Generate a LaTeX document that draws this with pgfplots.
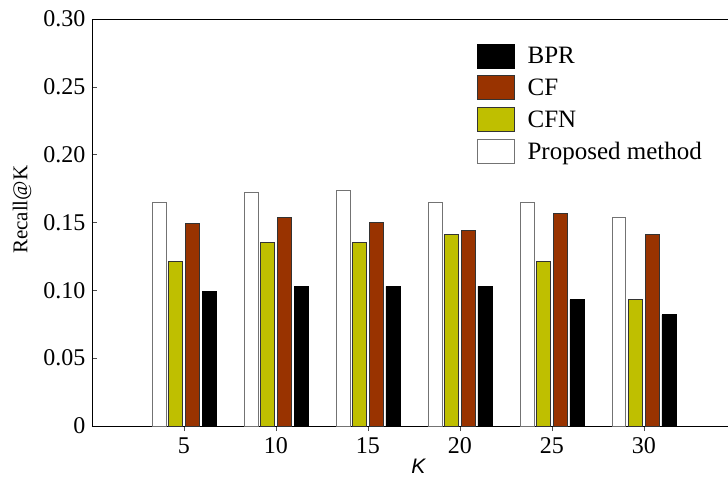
\documentclass[border=0pt]{standalone}
\usepackage{pgfplots}
\pgfplotsset{compat=1.18}
\usepackage{fontspec}
\setmainfont{Liberation Serif}
\newfontfamily\labelsans{Liberation Sans}
\definecolor{cfOrange}{HTML}{993300}
\definecolor{cfnYellow}{HTML}{BFBF00}

\begin{document}
\begin{tikzpicture}
\begin{axis}[
    name=ax,
    scale only axis,
    width=636bp, height=407bp,
    xmin=0, xmax=34.57,
    ymin=0, ymax=0.30,
    axis lines*=left,
    axis line style={line width=0.8pt},
    xtick={5,10,15,20,25,30},
    xticklabels={5,10,15,20,25,30},
    ytick={0,0.05,0.10,0.15,0.20,0.25,0.30},
    yticklabels={0,0.05,0.10,0.15,0.20,0.25,0.30},
    tick align=inside,
    major tick length=5bp,
    tick style={black!70, line width=0.5pt},
    ticklabel style={font=\fontsize{24bp}{28bp}\selectfont},
    yticklabel style={xshift=-3bp},
    xticklabel style={yshift=-3bp},
    xlabel={\labelsans\itshape K},
    xlabel style={font=\fontsize{21bp}{24bp}\selectfont, at={(axis description cs:0.513,-0.098)}, anchor=center},
    ylabel={Recall@K},
    ylabel style={font=\fontsize{21bp}{24bp}\selectfont, at={(axis description cs:-0.110,0.531)}, anchor=center},
    ybar, bar width=0.76,
    reverse legend,
    legend cell align=left,
    legend style={draw=none, fill=none, at={(0.60,0.945)}, anchor=north west,
        font=\fontsize{25bp}{30bp}\selectfont, row sep=7bp,
        /tikz/every odd column/.append style={column sep=11bp}},
    legend image code/.code={\draw[#1] (0bp,-12bp) rectangle (37bp,12bp);},
]

% Proposed method
\addplot[draw=black!55, fill=white, line width=0.8pt, bar shift=-1.36] coordinates {
    (5,0.165) (10,0.172) (15,0.174) (20,0.165) (25,0.165) (30,0.154)
};
\addlegendentry{Proposed method}

% CFN
\addplot[draw=black!80, fill=cfnYellow, line width=0.8pt, bar shift=-0.454] coordinates {
    (5,0.121) (10,0.135) (15,0.135) (20,0.141) (25,0.121) (30,0.093)
};
\addlegendentry{CFN}

% CF
\addplot[draw=black!80, fill=cfOrange, line width=0.8pt, bar shift=0.454] coordinates {
    (5,0.149) (10,0.154) (15,0.150) (20,0.144) (25,0.157) (30,0.141)
};
\addlegendentry{CF}

% BPR
\addplot[draw=black, fill=black, line width=0.8pt, bar shift=1.36] coordinates {
    (5,0.099) (10,0.103) (15,0.103) (20,0.103) (25,0.093) (30,0.082)
};
\addlegendentry{BPR}

\draw[line width=0.8pt] (rel axis cs:0,1) -- (rel axis cs:1,1);
\end{axis}
\pgfresetboundingbox
\path (ax.south west) ++(-92bp,-51bp) rectangle ++(728bp,477bp);
\end{tikzpicture}
\end{document}
